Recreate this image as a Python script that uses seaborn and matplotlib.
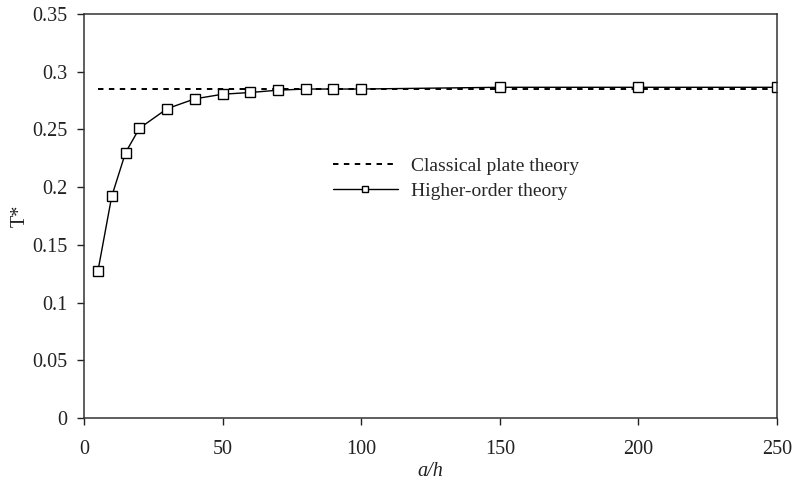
import matplotlib
matplotlib.use("Agg")
import matplotlib.pyplot as plt
import seaborn as sns
import pandas as pd

# Data
a_h = [5, 10, 15, 20, 30, 40, 50, 60, 70, 80, 90, 100, 150, 200, 250]
t_higher = [0.127, 0.192, 0.230, 0.251, 0.268, 0.2765, 0.2805, 0.282, 0.284,
            0.285, 0.285, 0.285, 0.2865, 0.2865, 0.2865]
classical_x = [5, 250]
classical_y = [0.285, 0.285]
xticks = [0, 50, 100, 150, 200, 250]
yticks = [0, 0.05, 0.1, 0.15, 0.2, 0.25, 0.3, 0.35]
ytick_labels = ["0", "0.05", "0.1", "0.15", "0.2", "0.25", "0.3", "0.35"]

sns.set_theme(style="ticks")
plt.rcParams['font.family'] = ['Liberation Serif', 'DejaVu Serif']

fig = plt.figure(figsize=(7.94, 4.92), dpi=100)
ax = fig.add_axes([84/794, 1-418/492, (777-84)/794, (418-14)/492])

df_h = pd.DataFrame({"x": a_h, "y": t_higher})
df_c = pd.DataFrame({"x": classical_x, "y": classical_y})

sns.lineplot(data=df_c, x="x", y="y", ax=ax, color="black", lw=1.4,
             linestyle=(0, (2.8, 2.8)), label="Classical plate theory")
sns.lineplot(data=df_h, x="x", y="y", ax=ax, color="black", lw=1.0,
             marker="s", markersize=6.5, markerfacecolor="white",
             markeredgecolor="black", markeredgewidth=1.0,
             label="Higher-order theory")

ax.set_xlim(0, 250)
ax.set_ylim(0, 0.35)
ax.set_xticks(xticks)
ax.set_xticklabels([str(t) for t in xticks])
ax.set_yticks(yticks)
ax.set_yticklabels(ytick_labels)
ax.tick_params(direction="out", length=5, width=1, colors="#222222",
               labelsize=14.5, labelcolor="#222222", pad=7)
ax.tick_params(axis="x", pad=11)
for s in ax.spines.values():
    s.set_linewidth(1.1)
    s.set_color("#333333")

ax.set_xlabel("a/h", fontsize=14.5, style="italic", labelpad=2, color="#222222")
ax.set_ylabel("T*", fontsize=14.5, labelpad=2, color="#222222")

leg = ax.legend(loc="upper left", bbox_to_anchor=(315/794, 1-140/492),
                bbox_transform=fig.transFigure, frameon=False, fontsize=14,
                handlelength=3.35, handletextpad=0.7, labelspacing=0.35)
for h in leg.legend_handles:
    h.set_markersize(5)
fig.savefig("out.png", dpi=100)
